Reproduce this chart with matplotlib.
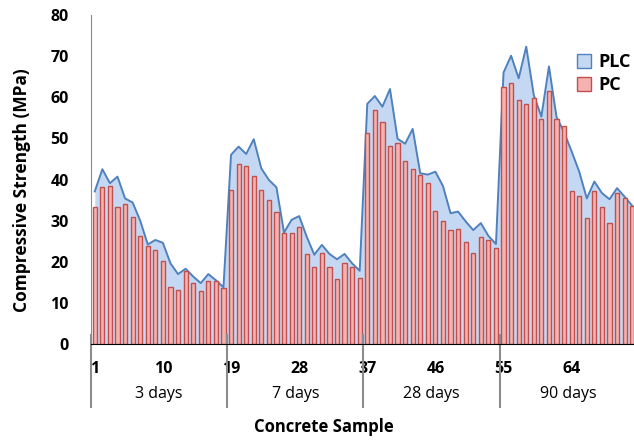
import matplotlib
matplotlib.use('Agg')
import matplotlib.pyplot as plt
from matplotlib.patches import Patch
from matplotlib.transforms import blended_transform_factory
import numpy as np

plt.rcParams['font.family'] = ['Open Sans', 'DejaVu Sans']

# compressive strength per sample (MPa)
sample = np.arange(1, 73)
plc = [37.1, 42.5, 39.1, 40.7, 35.4, 34.4, 30.0, 24.2, 25.3, 24.6, 19.6, 17.0, 18.3, 16.4, 14.8, 17.0, 15.5, 13.8,
       46.0, 48.0, 46.2, 49.8, 42.7, 39.9, 38.1, 27.1, 30.2, 31.1, 26.1, 21.7, 24.1, 21.9, 20.6, 21.9, 19.6, 17.8,
       58.4, 60.3, 57.7, 62.0, 49.9, 48.7, 52.3, 41.5, 41.2, 41.9, 38.4, 31.8, 32.2, 29.8, 27.7, 29.4, 26.3, 24.3,
       66.0, 70.1, 64.6, 72.3, 60.5, 55.3, 67.5, 55.2, 51.5, 46.8, 41.9, 35.4, 39.5, 36.7, 35.2, 37.9, 35.8, 33.6]
pc = [33.2, 38.1, 38.3, 33.4, 34.1, 30.9, 26.3, 23.8, 22.9, 20.3, 13.8, 13.1, 17.8, 14.8, 12.8, 15.2, 15.3, 13.5,
      37.5, 43.8, 43.3, 40.9, 37.5, 34.9, 32.2, 26.9, 26.9, 28.5, 21.8, 18.7, 22.2, 18.7, 15.7, 19.6, 18.7, 16.1,
      51.4, 56.8, 54.1, 48.2, 48.8, 44.6, 42.5, 41.0, 39.2, 32.4, 29.9, 27.6, 27.9, 24.9, 22.2, 25.9, 25.3, 23.3,
      62.4, 63.4, 59.4, 58.3, 59.9, 54.7, 61.4, 54.7, 52.9, 37.1, 36.0, 30.7, 37.1, 33.4, 29.5, 36.8, 35.6, 33.6]
tick_samples = [1, 10, 19, 28, 37, 46, 55, 64]
groups = ['3 days', '7 days', '28 days', '90 days']
group_size = 18

blue_fill, blue_line = '#c5d8f3', '#4f81bd'
red_fill, red_line = '#f5b2b0', '#c0504d'

fig = plt.figure(figsize=(6.34, 4.44), dpi=100)
# plot area runs a little past the right edge, like the original
ax = fig.add_axes([91/634, 100/444, 545/634, 329/444])

ax.fill_between(sample, plc, color=blue_fill, lw=0, zorder=1)
ax.plot(sample, plc, color=blue_line, lw=1.4, zorder=1.5)
ax.bar(sample, pc, width=0.55, color=red_fill, edgecolor=red_line, lw=1, zorder=2)

ax.set_xlim(0.5, 72.5)
ax.set_ylim(0, 80)
ax.set_yticks(range(0, 81, 10))
ax.set_xticks(tick_samples)
ax.tick_params(axis='both', length=0, labelsize=11.5)
ax.tick_params(axis='y', pad=16)
ax.tick_params(axis='x', pad=12)
for lab in ax.get_xticklabels() + ax.get_yticklabels():
    lab.set_fontweight('bold')

ax.spines['top'].set_visible(False)
ax.spines['right'].set_visible(False)
ax.spines['left'].set_color('#8c8c8c')
ax.spines['bottom'].set_color('black')

# group separators and labels under the axis
trans = blended_transform_factory(ax.transData, ax.transAxes)
for k in range(len(groups) + 1):
    xb = 0.5 + k * group_size
    ax.plot([xb, xb], [0.027, -0.192], transform=trans, color='#8c8c8c', lw=1.5, clip_on=False)
for k, name in enumerate(groups):
    ax.text(0.5 + (k + 0.5) * group_size, -0.153, name, transform=trans,
            ha='center', va='center', fontsize=11.5)

fig.text(324/634, 1 - 427/444, 'Concrete Sample', ha='center', va='center',
         fontsize=12, fontweight='bold')
fig.text(22/634, 1 - 190/444, 'Compressive Strength (MPa)', rotation=90,
         ha='center', va='center', fontsize=12.5, fontweight='bold')

handles = [Patch(facecolor=blue_fill, edgecolor=blue_line), Patch(facecolor=red_fill, edgecolor=red_line)]
fig.legend(handles, ['PLC', 'PC'], loc='upper left', bbox_to_anchor=(577/634, 1 - 53/444),
           frameon=False, prop=dict(weight='bold', size=13), handlelength=0.8, handleheight=0.8,
           handletextpad=0.4, labelspacing=0.3, borderaxespad=0, borderpad=0)

fig.savefig('out.png', dpi=100)
